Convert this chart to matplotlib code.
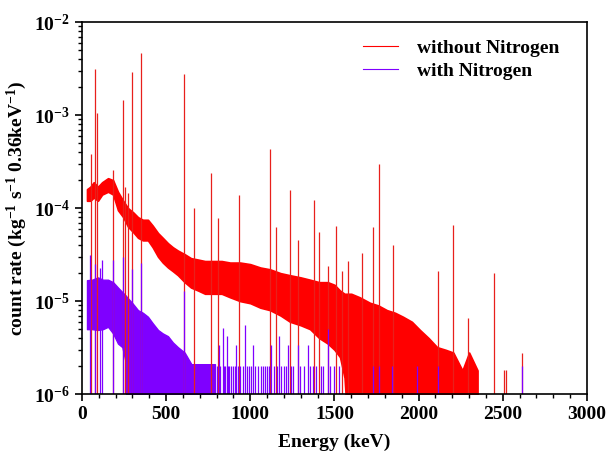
import numpy as np
from matplotlib import pyplot as plt
from matplotlib.lines import Line2D

plt.rcParams['font.family'] = ['Liberation Serif', 'DejaVu Serif']
plt.rcParams['font.weight'] = 'bold'
plt.rcParams['mathtext.fontset'] = 'custom'
plt.rcParams['mathtext.rm'] = 'Liberation Serif:bold'
plt.rcParams['mathtext.it'] = 'Liberation Serif:bold'
plt.rcParams['mathtext.bf'] = 'Liberation Serif:bold'

RED = '#ff0000'
RED_LINE = '#e8201c'
PURPLE = '#7f00ff'
FLOOR = 1e-7  # zero counts, below the visible range

# without nitrogen: noisy continuum, upper / lower edge of the band (read off)
red_e = [30, 50, 70, 95, 120, 155, 185, 214, 245, 274, 305, 333, 362, 392, 420,
         452, 480, 511, 540, 570, 610, 648, 690, 731, 780, 830, 880, 940, 1000,
         1060, 1117, 1180, 1236, 1300, 1355, 1410, 1460, 1500, 1533, 1560, 1600,
         1650, 1711, 1760, 1812, 1860, 1907, 1960, 2008, 2060, 2110, 2160, 2206,
         2260, 2300, 2350]
red_hi = [1.6e-4, 1.7e-4, 1.9e-4, 1.7e-4, 1.9e-4, 2.1e-4, 2.0e-4, 1.5e-4, 1.2e-4,
          1.0e-4, 9e-5, 8e-5, 7.5e-5, 7.5e-5, 6.5e-5, 5.4e-5, 4.8e-5, 4.2e-5,
          3.8e-5, 3.5e-5, 3.2e-5, 2.9e-5, 2.8e-5, 2.7e-5, 2.7e-5, 2.7e-5, 2.6e-5,
          2.6e-5, 2.5e-5, 2.3e-5, 2.2e-5, 2.0e-5, 1.9e-5, 1.8e-5, 1.7e-5, 1.6e-5,
          1.6e-5, 1.5e-5, 1.3e-5, 1.2e-5, 1.2e-5, 1.1e-5, 9.6e-6, 9e-6, 8e-6,
          7.5e-6, 6.8e-6, 6e-6, 4.9e-6, 4e-6, 3.2e-6, 3e-6, 2.8e-6, 1.8e-6,
          2.8e-6, 1.8e-6]
red_lo = [1.2e-4, 1.2e-4, 1.3e-4, 1.2e-4, 1.4e-4, 1.5e-4, 1.4e-4, 9.5e-5, 8e-5,
          6.3e-5, 5.5e-5, 4.8e-5, 4.5e-5, 4.5e-5, 3.8e-5, 3.0e-5, 2.6e-5, 2.3e-5,
          2.1e-5, 1.9e-5, 1.6e-5, 1.4e-5, 1.3e-5, 1.2e-5, 1.2e-5, 1.2e-5, 1.1e-5,
          1.0e-5, 9.5e-6, 8.5e-6, 8e-6, 7e-6, 6e-6, 5.5e-6, 5e-6, 4e-6, 3.5e-6,
          3e-6, 2.5e-6, 1.5e-6, FLOOR, FLOOR, FLOOR, FLOOR, FLOOR, FLOOR, FLOOR,
          FLOOR, FLOOR, FLOOR, FLOOR, FLOOR, FLOOR, FLOOR, FLOOR, FLOOR]

# without nitrogen: gamma lines (keV, peak height)
red_pk_e = [52, 77, 87, 186, 242, 256, 274, 295, 352, 609, 665, 768, 806, 934,
            1120, 1155, 1238, 1281, 1377, 1408, 1460, 1509, 1543, 1583, 1661,
            1730, 1764, 1847, 2118, 2204, 2293, 2448, 2505, 2520, 2614]
red_pk_v = [3.8e-4, 3.1e-3, 1.05e-3, 2.6e-4, 1.45e-3, 1.7e-4, 1.45e-4, 2.9e-3,
            4.6e-3, 2.8e-3, 1.0e-4, 2.4e-4, 7.8e-5, 1.4e-4, 4.3e-4, 6.3e-5,
            1.56e-4, 4.6e-5, 1.22e-4, 5.5e-5, 2.4e-5, 6.4e-5, 2.1e-5, 2.7e-5,
            3.3e-5, 6.3e-5, 3.0e-4, 4.0e-5, 2.1e-5, 6.6e-5, 6.6e-6, 2.0e-5,
            1.8e-6, 1.8e-6, 2.8e-6]

# with nitrogen: continuum band
pur_e = [30, 60, 95, 125, 155, 185, 214, 240, 260, 268, 300, 333, 362, 392, 420,
         452, 480, 511, 540, 570, 610, 650, 700, 760, 790]
pur_hi = [1.68e-5, 1.7e-5, 1.8e-5, 1.7e-5, 1.7e-5, 1.6e-5, 1.4e-5, 1.25e-5,
          1.15e-5, 1.1e-5, 9.5e-6, 8e-6, 7.5e-6, 6.8e-6, 5.8e-6, 4.9e-6, 4.5e-6,
          4.2e-6, 3.6e-6, 3.2e-6, 2.8e-6, 2.1e-6, 2.1e-6, 2.1e-6, 2.1e-6]
pur_lo = [5e-6, 5e-6, 4.9e-6, 5e-6, 5.3e-6, 4.5e-6, 3.5e-6, 3.2e-6, 2.2e-6,
          FLOOR, FLOOR, FLOOR, FLOOR, FLOOR, FLOOR, FLOOR, FLOOR, FLOOR, FLOOR,
          FLOOR, FLOOR, FLOOR, FLOOR, FLOOR, FLOOR]

# with nitrogen: lines and isolated counts
pur_pk_e = [46, 75, 105, 117, 185, 244, 295, 352, 609, 800, 812, 822, 836, 843,
            850, 859, 867, 875, 885, 899, 907, 915, 925, 940, 958, 968, 978, 990,
            1005, 1018, 1030, 1045, 1061, 1073, 1085, 1097, 1111, 1123, 1141,
            1156, 1172, 1185, 1200, 1212, 1226, 1240, 1255, 1285, 1295, 1320,
            1345, 1354, 1370, 1390, 1418, 1434, 1463, 1473, 1500, 1525, 1731,
            1764, 1840, 1988, 2117, 2614]
pur_pk_v = [3.1e-5, 2.5e-5, 2.3e-5, 2.75e-5, 2.8e-5, 3.0e-5, 2.2e-5, 2.6e-5,
            1.3e-5, 2e-6, 3.4e-6, 2e-6, 5.1e-6, 2e-6, 2e-6, 4.2e-6, 2e-6, 2e-6,
            2e-6, 2e-6, 2e-6, 3.4e-6, 2e-6, 2e-6, 2e-6, 5.5e-6, 2e-6, 2e-6, 2e-6,
            3.4e-6, 2e-6, 2e-6, 2e-6, 2e-6, 2e-6, 2e-6, 2e-6, 3.4e-6, 2e-6, 2e-6,
            4.2e-6, 2e-6, 2e-6, 2e-6, 3.4e-6, 2e-6, 2e-6, 3.4e-6, 2e-6, 2e-6,
            3.4e-6, 2e-6, 2e-6, 2e-6, 2e-6, 2e-6, 5e-6, 2e-6, 2e-6, 2e-6, 2e-6,
            2e-6, 2e-6, 2e-6, 2e-6, 2e-6]

fig = plt.figure(figsize=(6.07, 4.61), dpi=100)
ax = fig.add_axes([0.135, 0.145, 0.832, 0.807])

ax.fill_between(red_e, red_lo, red_hi, color=RED, lw=1.2)
ax.vlines(red_pk_e, FLOOR, red_pk_v, color=RED_LINE, lw=0.9)
ax.fill_between(pur_e, pur_lo, pur_hi, color=PURPLE, lw=1.0)
ax.vlines(pur_pk_e, FLOOR, pur_pk_v, color=PURPLE, lw=0.9)

ax.set_yscale('log')
ax.set_xlim(0, 3000)
ax.set_ylim(1e-6, 1e-2)
ax.set_xticks([0, 500, 1000, 1500, 2000, 2500, 3000])
ax.xaxis.set_minor_locator(plt.MultipleLocator(100))
ax.set_yticks([1e-6, 1e-5, 1e-4, 1e-3, 1e-2])
ax.set_yticklabels([r'$10^{-6}$', r'$10^{-5}$', r'$10^{-4}$', r'$10^{-3}$', r'$10^{-2}$'])
ax.tick_params(which='both', direction='out', top=False, right=False, labelsize=14)
ax.tick_params(which='major', length=5, width=1.2)
ax.tick_params(which='minor', length=3, width=1)
for s in ax.spines.values():
  s.set_linewidth(1.2)

ax.set_xlabel('Energy (keV)', fontsize=14, fontweight='bold', labelpad=8)
ax.set_ylabel(r'count rate (kg$^{-1}$ s$^{-1}$ 0.36keV$^{-1}$)', fontsize=14,
              fontweight='bold', labelpad=4)

handles = [Line2D([], [], color=RED, lw=0.8), Line2D([], [], color=PURPLE, lw=0.8)]
ax.legend(handles, ['without Nitrogen', 'with Nitrogen'], loc='upper right',
          bbox_to_anchor=(0.98, 1.0), frameon=False, handlelength=1.8,
          handletextpad=1.0, borderaxespad=0.5, labelspacing=0.25,
          prop={'weight': 'bold', 'size': 14})

fig.savefig('out.png', dpi=100)
